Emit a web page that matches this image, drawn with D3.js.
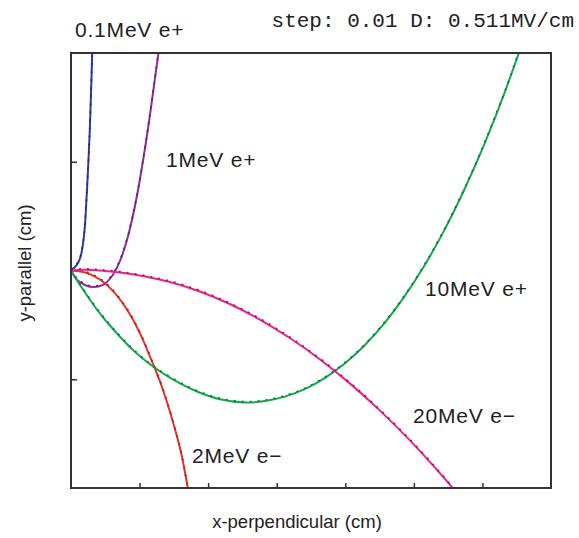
<!DOCTYPE html>
<html>
<head>
<meta charset="utf-8">
<script src="https://cdn.jsdelivr.net/npm/d3@7"></script>
<style>
	body { margin: 0; background: #ffffff; }
	text { font-family: "Liberation Sans", Arial, sans-serif; fill: #222222; }
</style>
</head>
<body>
<script>
//////////////////
// TRAJECTORIES //
//////////////////

// x-perpendicular (cm), y-parallel (cm) for each particle
var pos01X = [0, 0.051, 0.102, 0.138, 0.164, 0.186, 0.204, 0.221, 0.237, 0.255, 0.274, 0.291, 0.31, 0.315];
var pos01Y = [0, 0.028, 0.069, 0.124, 0.198, 0.299, 0.419, 0.602, 0.786, 1.016, 1.292, 1.614, 2.0, 2.083];

var pos1X = [0, 0.029, 0.073, 0.131, 0.219, 0.321, 0.466, 0.61, 0.72, 0.816, 0.899, 0.978, 1.052, 1.12, 1.202, 1.275, 1.294];
var pos1Y = [0, -0.032, -0.074, -0.106, -0.138, -0.152, -0.133, -0.041, 0.097, 0.28, 0.492, 0.74, 1.016, 1.292, 1.66, 2.0, 2.083];

var ele2X = [0, 0.146, 0.291, 0.437, 0.583, 0.728, 0.874, 1.02, 1.166, 1.311, 1.457, 1.603, 1.705, 1.792];
var ele2Y = [0, -0.009, -0.038, -0.09, -0.169, -0.278, -0.419, -0.597, -0.814, -1.044, -1.329, -1.669, -2.0, -2.253];

var pos10X = [0, 0.175, 0.379, 0.612, 0.903, 1.195, 1.486, 1.836, 2.171, 2.535, 2.826, 3.118, 3.409, 3.7,
	3.992, 4.283, 4.575, 4.866, 5.157, 5.449, 5.74, 6.031, 6.323, 6.614];
var pos10Y = [0, -0.175, -0.359, -0.538, -0.731, -0.883, -1.002, -1.113, -1.184, -1.214, -1.201, -1.16, -1.091, -0.99,
	-0.856, -0.688, -0.482, -0.236, 0.048, 0.376, 0.749, 1.167, 1.634, 2.151];

var ele20X = [0, 0.204, 0.422, 0.714, 1.078, 1.442, 1.879, 2.316, 2.754, 3.191, 3.628, 4.065, 4.502, 4.939, 5.376, 5.667];
var ele20Y = [0, 0.006, -0.001, -0.019, -0.055, -0.106, -0.193, -0.308, -0.451, -0.621, -0.816, -1.038, -1.286, -1.56, -1.861, -2.075];

var xTicks = [1, 2, 3, 4, 5, 6];
var yTicks = [-1, 1];

var curves = [
	{ xs: pos01X, ys: pos01Y, color: "#2e3c9c", dark: "#1c2778" },
	{ xs: pos1X, ys: pos1Y, color: "#8e2b97", dark: "#6a1873" },
	{ xs: ele2X, ys: ele2Y, color: "#e8302a", dark: "#b01c18" },
	{ xs: pos10X, ys: pos10Y, color: "#16a84f", dark: "#0a7a35" },
	{ xs: ele20X, ys: ele20Y, color: "#e6238e", dark: "#ad1167" }
];

var labels = [
	{ text: "0.1MeV e+", x: 75, y: 37 },
	{ text: "1MeV e+", x: 166, y: 167 },
	{ text: "10MeV e+", x: 425, y: 296 },
	{ text: "20MeV e\u2212", x: 413, y: 423 },
	{ text: "2MeV e\u2212", x: 192, y: 463 }
];

///////////
// SETUP //
///////////

var margin = { top: 53, right: 28, bottom: 50, left: 71 };
var width = 579 - margin.left - margin.right;
var height = 538 - margin.top - margin.bottom;

var x = d3.scaleLinear().domain([0, 7]).range([0, width]);
var y = d3.scaleLinear().domain([-2, 2]).range([height, 0]);

var svg = d3.select("body").append("svg")
	.attr("width", 579)
	.attr("height", 538);

var g = svg.append("g")
	.attr("transform", "translate(" + margin.left + "," + margin.top + ")");

g.append("clipPath")
	.attr("id", "plot-clip")
	.append("rect")
		.attr("width", width)
		.attr("height", height);

// inward ticks, no numbers
g.append("g")
	.attr("transform", "translate(0," + height + ")")
	.call(d3.axisBottom(x).tickValues(xTicks).tickSizeInner(-5).tickSizeOuter(0).tickFormat(""))
	.call(function(a) { a.select(".domain").remove(); })
	.selectAll("line").attr("stroke", "#333").attr("stroke-width", 1.5);

g.append("g")
	.call(d3.axisLeft(y).tickValues(yTicks).tickSizeInner(-6).tickSizeOuter(0).tickFormat(""))
	.call(function(a) { a.select(".domain").remove(); })
	.selectAll("line").attr("stroke", "#333").attr("stroke-width", 1.5);

////////////
// CURVES //
////////////

var line = d3.line()
	.x(function(d) { return x(d[0]); })
	.y(function(d) { return y(d[1]); })
	.curve(d3.curveCatmullRom.alpha(0.5));

var plot = g.append("g").attr("clip-path", "url(#plot-clip)");

curves.forEach(function(c) {
	var pts = c.xs.map(function(v, i) { return [v, c.ys[i]]; });
	// computed path
	plot.append("path")
		.datum(pts)
		.attr("fill", "none")
		.attr("stroke", c.color)
		.attr("stroke-width", 2)
		.attr("d", line);
	// stepped result, dotted on top
	plot.append("path")
		.datum(pts)
		.attr("fill", "none")
		.attr("stroke", c.dark)
		.attr("stroke-width", 1.6)
		.attr("stroke-dasharray", "2,6")
		.attr("transform", "translate(0,-1)")
		.attr("d", line);
});

// frame
g.append("rect")
	.attr("width", width)
	.attr("height", height)
	.attr("fill", "none")
	.attr("stroke", "#333")
	.attr("stroke-width", 2);

////////////
// LABELS //
////////////

svg.selectAll(".curve-label")
	.data(labels)
	.enter()
	.append("text")
		.attr("class", "curve-label")
		.attr("x", function(d) { return d.x; })
		.attr("y", function(d) { return d.y; })
		.style("font-size", "21px")
		.style("letter-spacing", "0.8px")
		.text(function(d) { return d.text; });

svg.append("text")
	.attr("x", 574)
	.attr("y", 27)
	.attr("text-anchor", "end")
	.style("font-family", "'Liberation Mono', 'DejaVu Sans Mono', monospace")
	.style("font-size", "21px")
	.text("step: 0.01 D: 0.511MV/cm");

svg.append("text")
	.attr("x", 297)
	.attr("y", 528)
	.attr("text-anchor", "middle")
	.style("font-size", "18.5px")
	.text("x-perpendicular (cm)");

svg.append("text")
	.attr("transform", "translate(31,263) rotate(-90)")
	.attr("text-anchor", "middle")
	.style("font-size", "18.5px")
	.text("y-parallel (cm)");
</script>
</body>
</html>
